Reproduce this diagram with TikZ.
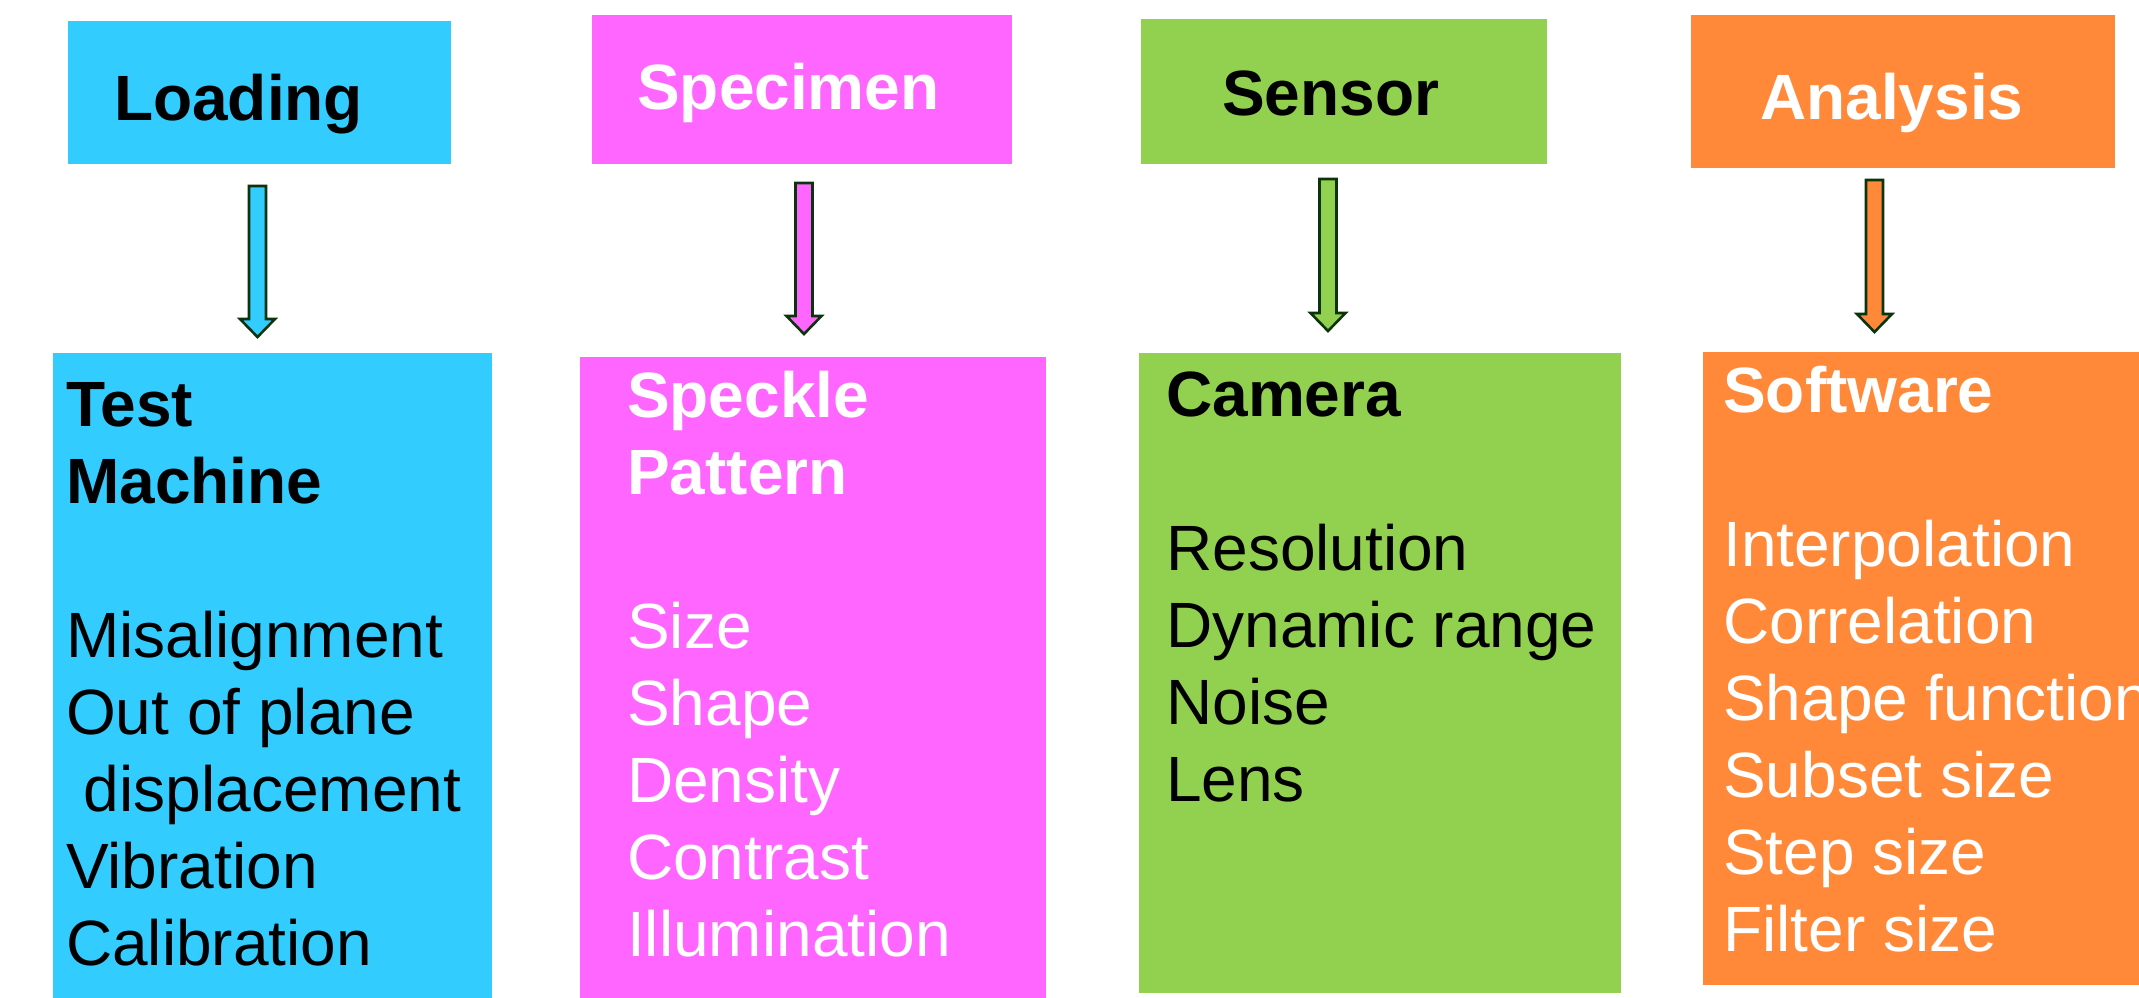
\documentclass[tikz,border=0pt]{standalone}
\usepackage{fontspec}
\setmainfont{Liberation Sans}
\usepackage{tikz}
\usetikzlibrary{arrows.meta,positioning,calc}
\definecolor{LoadColor}{RGB}{51,204,255}
\definecolor{SpecColor}{RGB}{255,102,255}
\definecolor{SensColor}{RGB}{146,208,80}
\definecolor{AnaColor}{RGB}{255,137,57}
\definecolor{EdgeColor}{RGB}{12,52,12}

\newcommand{\blockarrow}[3]{%
  \draw[line width=2.6pt, draw=EdgeColor, fill=#3, line join=miter]
    ($(#1)+(-8.5,0)$) -- ($(#2)+(-8.5,-18)$) -- ($(#2)+(-17.5,-18)$) -- (#2)
    -- ($(#2)+(17.5,-18)$) -- ($(#2)+(8.5,-18)$) -- ($(#1)+(8.5,0)$) -- cycle;}

\begin{document}
\begin{tikzpicture}[x=1pt, y=-1pt,
    headbox/.style={rectangle, inner sep=0pt, draw=none},
    listbox/.style={rectangle, inner sep=0pt, draw=none, anchor=north west},
    headtext/.style={inner sep=0pt, anchor=base west, font=\fontsize{64pt}{77pt}\selectfont\bfseries},
    listtext/.style={inner sep=0pt, anchor=base west, align=left, font=\fontsize{64pt}{77pt}\selectfont}]
  \useasboundingbox (0,0) rectangle (2139,998);

  % top row
  \node[headbox, fill=LoadColor, minimum width=383, minimum height=143] (load) at (259.5,92.5) {};
  \node[headbox, fill=SpecColor, minimum width=420, minimum height=149] (spec) at (802,89.5) {};
  \node[headbox, fill=SensColor, minimum width=406, minimum height=145] (sens) at (1344,91.5) {};
  \node[headbox, fill=AnaColor, minimum width=424, minimum height=153] (ana) at (1903,91.5) {};
  \node[headtext] (loadtxt) at (114,121) {Loading};
  \node[headtext, text=white] (spectxt) at (637,110) {Specimen};
  \node[headtext] (senstxt) at (1222,115) {Sensor};
  \node[headtext, text=white] (anatxt) at (1760,119) {Analysis};

  % bottom row (text placed by its last line)
  \node[listbox, fill=LoadColor, minimum width=439, minimum height=645] (mach) at (53,353) {};
  \node[listbox, fill=SpecColor, minimum width=466, minimum height=641] (speck) at (580,357) {};
  \node[listbox, fill=SensColor, minimum width=482, minimum height=640] (cam) at (1139,353) {};
  \node[listbox, fill=AnaColor, minimum width=450, minimum height=633] (soft) at (1703,352) {};

  \node[listtext] (machtxt) at (66,965) {\textbf{Test}\\\textbf{Machine}\\\mbox{}\\Misalignment\\Out of plane\\\ displacement\\Vibration\\Calibration};
  \node[listtext, text=white] (specktxt) at (627,956) {\textbf{Speckle}\\\textbf{Pattern}\\\mbox{}\\Size\\Shape\\Density\\Contrast\\Illumination};
  \node[listtext] (camtxt) at (1166,801) {\textbf{Camera}\\\mbox{}\\Resolution\\Dynamic range\\Noise\\Lens};
  \node[listtext, text=white] (softtxt) at (1723,951) {\textbf{Software}\\\mbox{}\\Interpolation\\Correlation\\Shape function\\Subset size\\Step size\\Filter size};

  % arrows
  \coordinate (s1) at (257.5,186);  \coordinate (t1) at (257.5,337);
  \coordinate (s2) at (804,183);    \coordinate (t2) at (804,334);
  \coordinate (s3) at (1328,179);   \coordinate (t3) at (1328,331);
  \coordinate (s4) at (1874.5,180); \coordinate (t4) at (1874.5,332);
  \blockarrow{s1}{t1}{LoadColor}
  \blockarrow{s2}{t2}{SpecColor}
  \blockarrow{s3}{t3}{SensColor}
  \blockarrow{s4}{t4}{AnaColor}
\end{tikzpicture}
\end{document}
